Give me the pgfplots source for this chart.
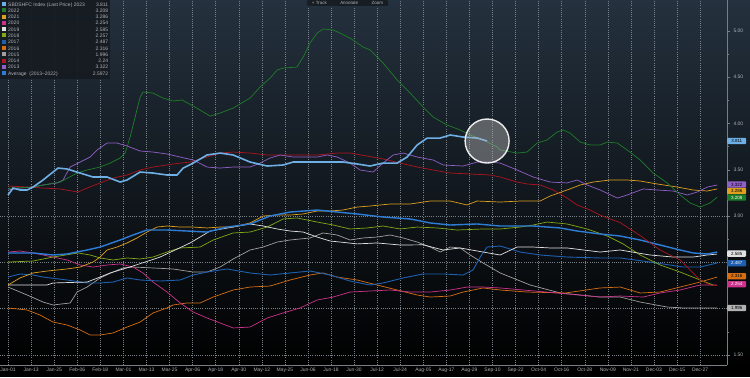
\documentclass[border=0pt]{standalone}
\usepackage{pgfplots}
\pgfplotsset{compat=1.18}
\usepackage{fontspec}
\setmainfont{Liberation Sans}
\definecolor{bgtop}{RGB}{36,49,62}
\definecolor{bgmid}{RGB}{17,23,30}
\definecolor{axisgray}{RGB}{120,126,132}
\definecolor{gridgray}{RGB}{120,128,136}
\definecolor{ticklab}{RGB}{175,178,182}
\definecolor{legbg}{RGB}{22,27,33}
\definecolor{c2023}{RGB}{110,175,230}
\definecolor{c2022}{RGB}{30,125,40}
\definecolor{c2021}{RGB}{222,160,30}
\definecolor{c2020}{RGB}{205,50,140}
\definecolor{c2019}{RGB}{225,225,225}
\definecolor{c2018}{RGB}{130,170,20}
\definecolor{c2017}{RGB}{30,95,175}
\definecolor{c2016}{RGB}{215,110,20}
\definecolor{c2015}{RGB}{160,160,160}
\definecolor{c2014}{RGB}{175,20,30}
\definecolor{c2013}{RGB}{145,95,200}
\definecolor{cavg}{RGB}{45,125,215}
\newcommand{\sw}[1]{\textcolor{#1}{\rule{4bp}{4bp}}}
\begin{document}
\begin{tikzpicture}[x=1bp,y=1bp]
\useasboundingbox (0,-12) rectangle (750,365);
\fill[black] (0,-12) rectangle (750,365);
\shade[top color=bgtop, middle color=bgmid, bottom color=black] (0,0) rectangle (750,365);
\begin{axis}[
 at={(0,0)}, anchor=south west,
 scale only axis, width=727bp, height=365bp,
 xmin=-4.2, xmax=374, ymin=1.392, ymax=5.334,
 clip=false,
 axis x line*=bottom, axis y line*=right,
 axis line style={draw=axisgray, line width=0.6bp},
 xtick={0,12,24,36,48,60,72,84,96,108,120,132,144,156,168,180,192,204,216,228,240,252,264,276,288,300,312,324,336,348,360},
 xticklabels={},
 x tick style={draw=none},
 xmajorgrids,
 x grid style={draw=gridgray, dash pattern=on 1bp off 1.2bp, line width=0.5bp},
 y grid style={draw=gridgray, dash pattern=on 1bp off 1.2bp, line width=0.5bp},
 ytick={1.5,2,2.5,3,3.5,4,4.5,5},
 yticklabels={1.50,{},{},3.00,3.50,4.00,4.50,5.00},
 minor y tick num=1,
 y tick style={draw=axisgray, line width=0.5bp},
 major tick length=3bp, minor tick length=2bp, tick align=outside,
 extra y ticks={1.5,2,2.5,3}, extra y tick labels={},
 extra y tick style={ymajorgrids=true, major tick length=0pt},
 ticklabel style={font=\fontsize{5}{6}\selectfont, text=ticklab},
 /pgf/number format/assume math mode=true,
]
% 2015
\addplot[c2015, line width=0.7bp] coordinates {(0,2.234)(9.9,2.148)(18.2,2.072)(23.4,2.04)(32.3,2.062)(35.9,2.18)(41.1,2.234)(47.9,2.332)(54.6,2.396)(59.8,2.44)(65,2.45)(75.4,2.44)(85.8,2.429)(96.3,2.396)(103.5,2.396)(110.3,2.45)(117.1,2.537)(125.9,2.634)(132.7,2.666)(140,2.72)(146.7,2.742)(157.1,2.764)(163.9,2.818)(171.2,2.796)(177.9,2.742)(184.7,2.764)(192,2.774)(198.8,2.796)(205.5,2.764)(212.8,2.72)(219.6,2.666)(224.8,2.612)(230,2.666)(235.2,2.656)(240.4,2.58)(247.1,2.494)(256,2.386)(271.6,2.256)(287.2,2.17)(308,2.126)(318.4,2.126)(328.8,2.072)(342.9,2.018)(351.2,2.008)(368.9,2.008)};
% 2016
\addplot[c2016, line width=0.7bp] coordinates {(0,2.008)(9.9,1.986)(16.6,1.932)(23.4,1.856)(30.7,1.824)(37.5,1.77)(42.7,1.716)(47.9,1.716)(54.6,1.738)(61.9,1.802)(68.7,1.856)(75.4,1.954)(82.7,2.008)(85.8,2.04)(93.1,2.062)(99.9,2.062)(106.7,2.126)(117.1,2.202)(125.9,2.234)(136.3,2.245)(146.7,2.31)(157.1,2.364)(163.9,2.386)(171.2,2.342)(181.6,2.31)(192,2.256)(202.4,2.202)(212.8,2.148)(219.6,2.126)(230,2.137)(236.7,2.18)(247.1,2.224)(256,2.202)(270,2.18)(290,2.17)(308,2.224)(318.4,2.234)(328.8,2.17)(339.2,2.18)(349.6,2.234)(360,2.288)(368.9,2.342)};
% 2020
\addplot[c2020, line width=0.7bp] coordinates {(0,2.612)(6.2,2.623)(13,2.602)(23.4,2.558)(30.7,2.526)(37.5,2.472)(44.2,2.45)(51.5,2.472)(58.3,2.483)(65,2.45)(70.2,2.386)(75.4,2.288)(82.7,2.18)(89.5,2.062)(96.3,1.964)(103.5,1.9)(110.3,1.846)(117.1,1.792)(125.9,1.802)(134.8,1.9)(143.1,1.954)(151.9,2.008)(160.8,2.094)(169.1,2.126)(177.9,2.18)(188.3,2.191)(198.8,2.202)(209.2,2.18)(219.6,2.18)(230,2.202)(238.8,2.234)(247.1,2.234)(256,2.224)(280,2.18)(308,2.126)(318.4,2.137)(330.4,2.126)(339.2,2.17)(349.6,2.202)(360,2.256)(368.9,2.256)};
% 2017
\addplot[c2017, line width=0.9bp] coordinates {(0,2.342)(6.2,2.375)(13,2.364)(18.2,2.342)(30.7,2.31)(41.1,2.278)(47.9,2.278)(54.6,2.288)(61.9,2.332)(68.7,2.31)(79.1,2.299)(89.5,2.31)(96.3,2.364)(103.5,2.396)(113.9,2.429)(125.9,2.386)(136.3,2.364)(146.7,2.386)(157.1,2.407)(167.5,2.364)(177.9,2.299)(188.3,2.256)(195.1,2.278)(205.5,2.332)(215.9,2.375)(226.3,2.375)(236.7,2.364)(241.9,2.418)(245.6,2.558)(249.2,2.666)(256,2.677)(266.4,2.612)(276.8,2.58)(290.8,2.558)(308,2.548)(318.4,2.548)(334,2.504)(351.2,2.45)(360,2.45)(368.9,2.494)};
% 2018
\addplot[c2018, line width=0.7bp] coordinates {(0,2.504)(13,2.515)(23.4,2.558)(36.4,2.602)(42.7,2.58)(47.9,2.548)(54.6,2.526)(61.9,2.548)(68.7,2.537)(75.4,2.558)(82.7,2.612)(89.5,2.656)(99.9,2.666)(106.7,2.742)(117.1,2.818)(125.9,2.828)(134.8,2.882)(143.1,2.969)(150.3,2.98)(160.8,2.936)(169.1,2.904)(177.9,2.861)(186.8,2.872)(195.1,2.893)(204,2.861)(212.8,2.882)(223.2,2.872)(233.6,2.85)(247.1,2.861)(256,2.861)(266.4,2.882)(273.2,2.904)(280.4,2.936)(290.8,2.915)(301.2,2.861)(311.7,2.785)(320,2.699)(328.8,2.58)(339.2,2.472)(349.6,2.396)(360,2.31)(366.8,2.256)};
% 2019
\addplot[c2019, line width=0.7bp] coordinates {(0,2.256)(20.3,2.256)(23.4,2.278)(41.1,2.288)(47.9,2.342)(53.1,2.386)(65,2.461)(79.1,2.558)(94.7,2.71)(105.1,2.839)(117.1,2.882)(125.9,2.915)(132.7,2.893)(140,2.861)(146.7,2.839)(153.5,2.828)(160.8,2.774)(167.5,2.731)(172.7,2.72)(181.6,2.7)(192,2.71)(204,2.688)(215.9,2.69)(226.3,2.634)(235.2,2.656)(247.1,2.612)(256,2.58)(264.8,2.666)(273.2,2.666)(282,2.656)(290.8,2.656)(308,2.612)(318.4,2.634)(334,2.58)(346,2.558)(356.4,2.558)(363.7,2.58)(368.9,2.59)};
% 2021
\addplot[c2021, line width=0.7bp] coordinates {(0,2.256)(6.2,2.332)(13,2.386)(20.3,2.407)(30.7,2.429)(37.5,2.45)(44.2,2.504)(47.9,2.558)(51.5,2.634)(56.7,2.666)(61.9,2.71)(67.1,2.764)(72.3,2.828)(77.5,2.882)(82.7,2.893)(89.5,2.882)(96.3,2.882)(103.5,2.872)(110.3,2.882)(117.1,2.882)(125.9,2.926)(132.7,3.001)(140,3.012)(146.7,3.012)(153.5,3.023)(160.8,3.055)(167.5,3.055)(174.3,3.066)(181.6,3.098)(188.3,3.109)(198.8,3.131)(209.2,3.131)(219.6,3.163)(230,3.163)(238.8,3.12)(244,3.163)(256,3.152)(266.4,3.163)(276.8,3.163)(282,3.217)(290.8,3.282)(297.6,3.336)(304.4,3.368)(313.2,3.39)(322.1,3.39)(328.8,3.379)(337.7,3.347)(348.1,3.314)(356.4,3.282)(363.7,3.271)(368.9,3.293)};
% Average
\addplot[cavg, line width=1.4bp] coordinates {(0,2.602)(13,2.602)(23.4,2.58)(30.7,2.591)(41.1,2.634)(47.9,2.666)(58.3,2.742)(65,2.796)(72.3,2.85)(82.7,2.85)(93.1,2.839)(103.5,2.828)(113.9,2.882)(125.9,2.915)(136.3,3.001)(146.7,3.044)(160.8,3.066)(171.2,3.044)(181.6,3.023)(195.1,2.99)(209.2,2.969)(219.6,2.926)(230,2.904)(244,2.915)(256,2.893)(273.2,2.893)(287.2,2.872)(296,2.839)(308,2.807)(318.4,2.785)(328.8,2.742)(339.2,2.688)(349.6,2.634)(356.4,2.602)(363.7,2.591)(368.9,2.612)};
% 2014
\addplot[c2014, line width=0.7bp] coordinates {(0,3.325)(9.9,3.314)(18.2,3.303)(27.1,3.293)(36.4,3.26)(41.1,3.303)(47.9,3.358)(54.6,3.411)(61.9,3.444)(68.7,3.498)(75.4,3.53)(85.8,3.563)(94.7,3.584)(103.5,3.638)(110.3,3.681)(117.1,3.692)(125.9,3.681)(134.8,3.66)(143.1,3.66)(151.9,3.66)(160.8,3.66)(171.2,3.681)(177.9,3.681)(186.8,3.649)(195.1,3.617)(204,3.573)(212.8,3.53)(221.1,3.498)(230,3.465)(240.4,3.455)(250.8,3.444)(256,3.422)(264.8,3.368)(270,3.347)(276.8,3.336)(283.6,3.282)(290.8,3.196)(296,3.12)(302.8,3.066)(308,3.01)(318.4,2.93)(328.8,2.79)(339.2,2.634)(349.6,2.526)(354.8,2.418)(360,2.31)(365.2,2.256)(368.9,2.25)};
% 2013
\addplot[c2013, line width=0.7bp] coordinates {(0,3.282)(6.2,3.303)(13,3.314)(18.2,3.336)(25.5,3.358)(28.6,3.39)(32.3,3.53)(37.5,3.584)(42.7,3.638)(46.3,3.714)(51.5,3.789)(56.7,3.789)(61.9,3.757)(68.7,3.703)(75.4,3.692)(82.7,3.671)(89.5,3.638)(96.3,3.606)(103.5,3.53)(110.3,3.519)(117.1,3.53)(125.9,3.53)(131.1,3.573)(136.3,3.627)(141.5,3.66)(148.3,3.638)(160.8,3.638)(166,3.66)(171.2,3.638)(177.9,3.573)(183.1,3.498)(189.9,3.476)(195.1,3.573)(200.3,3.66)(205.5,3.681)(212.8,3.638)(221.1,3.606)(226.3,3.552)(236.7,3.541)(244,3.584)(250.8,3.584)(256,3.573)(264.8,3.498)(273.2,3.422)(282,3.368)(290.8,3.358)(296,3.39)(301.2,3.336)(308,3.282)(316.9,3.195)(322.1,3.228)(330.4,3.293)(337.7,3.282)(346,3.271)(353.3,3.228)(358.5,3.26)(363.7,3.314)(368.9,3.336)};
% 2022
\addplot[c2022, line width=0.7bp] coordinates {(0,3.3)(13,3.314)(18.2,3.336)(27.1,3.368)(35.9,3.465)(41.1,3.498)(47.9,3.53)(53.1,3.573)(58.3,3.627)(60.9,3.681)(63.5,3.854)(66.1,4.07)(68.7,4.286)(70.2,4.34)(75.4,4.329)(80.6,4.275)(85.8,4.243)(90.5,4.254)(96.3,4.189)(105.1,4.081)(110.3,4.113)(117.1,4.167)(125.9,4.275)(131.1,4.394)(136.3,4.491)(140,4.578)(143.1,4.599)(150.3,4.61)(153.5,4.718)(157.1,4.869)(160.8,4.977)(163.9,5.021)(169.1,5.01)(172.7,4.977)(177.9,4.923)(184.7,4.826)(188.3,4.794)(195.1,4.653)(202.4,4.47)(209.2,4.329)(215.9,4.178)(221.1,4.07)(228.4,3.984)(235.2,3.93)(240.4,3.876)(247.1,3.822)(254.4,3.746)(256,3.714)(264.8,3.681)(270,3.692)(275.2,3.789)(280.4,3.822)(285.6,3.908)(288.8,3.93)(292.4,3.897)(297.6,3.8)(302.8,3.768)(308,3.768)(311.7,3.8)(316.9,3.789)(322.1,3.714)(328.8,3.606)(335.6,3.465)(342.9,3.358)(349.6,3.228)(354.8,3.142)(360,3.098)(365.2,3.142)(368.9,3.206)};
% 2023
\addplot[c2023, line width=1.6bp] coordinates {(0,3.228)(2.6,3.303)(6.2,3.282)(9.9,3.282)(13,3.314)(18.2,3.39)(23.4,3.476)(26,3.519)(30.7,3.509)(37.5,3.465)(44.2,3.422)(51.5,3.422)(58.3,3.368)(61.9,3.39)(68.7,3.476)(75.4,3.465)(82.7,3.444)(87.9,3.444)(91.1,3.519)(96.3,3.573)(103.5,3.66)(110.3,3.681)(117.1,3.66)(125.9,3.584)(134.8,3.541)(143.1,3.552)(148.3,3.584)(160.8,3.584)(174.3,3.584)(181.6,3.563)(188.3,3.541)(195.1,3.573)(202.4,3.573)(207.6,3.638)(212.8,3.768)(218,3.843)(224.8,3.843)(230,3.876)(236.7,3.854)(244,3.843)(249.2,3.811)};
% highlight circle
\addplot[only marks, mark=*, mark size=22bp, mark options={fill=gray!60!white, fill opacity=0.45, draw=white!92!gray, line width=1.4bp, draw opacity=0.95}] coordinates {(249.2,3.811)};
% x labels
\tikzset{xlab/.style={anchor=north, inner sep=0pt, yshift=-3bp, font=\fontsize{5}{6}\selectfont, text=ticklab}}
\node[xlab] at (axis cs:0,1.392) {Jan-01};
\node[xlab] at (axis cs:12,1.392) {Jan-13};
\node[xlab] at (axis cs:24,1.392) {Jan-25};
\node[xlab] at (axis cs:36,1.392) {Feb-06};
\node[xlab] at (axis cs:48,1.392) {Feb-18};
\node[xlab] at (axis cs:60,1.392) {Mar-01};
\node[xlab] at (axis cs:72,1.392) {Mar-13};
\node[xlab] at (axis cs:84,1.392) {Mar-25};
\node[xlab] at (axis cs:96,1.392) {Apr-06};
\node[xlab] at (axis cs:108,1.392) {Apr-18};
\node[xlab] at (axis cs:120,1.392) {Apr-30};
\node[xlab] at (axis cs:132,1.392) {May-12};
\node[xlab] at (axis cs:144,1.392) {May-25};
\node[xlab] at (axis cs:156,1.392) {Jun-06};
\node[xlab] at (axis cs:168,1.392) {Jun-18};
\node[xlab] at (axis cs:180,1.392) {Jun-30};
\node[xlab] at (axis cs:192,1.392) {Jul-12};
\node[xlab] at (axis cs:204,1.392) {Jul-24};
\node[xlab] at (axis cs:216,1.392) {Aug-05};
\node[xlab] at (axis cs:228,1.392) {Aug-17};
\node[xlab] at (axis cs:240,1.392) {Aug-29};
\node[xlab] at (axis cs:252,1.392) {Sep-10};
\node[xlab] at (axis cs:264,1.392) {Sep-22};
\node[xlab] at (axis cs:276,1.392) {Oct-04};
\node[xlab] at (axis cs:288,1.392) {Oct-16};
\node[xlab] at (axis cs:300,1.392) {Oct-28};
\node[xlab] at (axis cs:312,1.392) {Nov-09};
\node[xlab] at (axis cs:324,1.392) {Nov-21};
\node[xlab] at (axis cs:336,1.392) {Dec-03};
\node[xlab] at (axis cs:348,1.392) {Dec-15};
\node[xlab] at (axis cs:360,1.392) {Dec-27};
% right tags
\tikzset{tag/.style={anchor=west, rounded corners=1bp, minimum width=19bp, minimum height=6.3bp, inner sep=0.3bp, font=\fontsize{4.5}{5}\selectfont}}
\node[tag, fill=c2023, text=black] at (axis cs:374,3.811) {3.811};
\node[tag, fill=c2013, text=black] at (axis cs:374,3.341) {3.322};
\node[tag, fill=c2021, text=black] at (axis cs:374,3.271) {3.286};
\node[tag, fill=c2022, text=white] at (axis cs:374,3.201) {3.208};
\node[tag, fill=c2019, text=black] at (axis cs:374,2.595) {2.585};
\node[tag, fill=c2017, text=white] at (axis cs:374,2.490) {2.487};
\node[tag, fill=c2016, text=black] at (axis cs:374,2.350) {2.316};
\node[tag, fill=c2020, text=white] at (axis cs:374,2.265) {2.254};
\node[tag, fill=c2015!80!white, text=black] at (axis cs:374,2.008) {1.996};
% legend box
\node[anchor=north west, fill=legbg, fill opacity=0.92, text opacity=1, inner sep=1.5bp, text=ticklab, font=\fontsize{5}{6.3}\selectfont] at (rel axis cs:0,1) {%
\renewcommand{\arraystretch}{1}%
\begin{tabular}{@{}l@{\hspace{2.5bp}}l@{\hspace{8bp}}r@{}}
\sw{c2023} & SBDSHFC Index (Last Price) 2023 & 3.811\\
\sw{c2022} & 2022 & 3.208\\
\sw{c2021} & 2021 & 3.286\\
\sw{c2020} & 2020 & 2.254\\
\sw{c2019} & 2019 & 2.585\\
\sw{c2018} & 2018 & 2.257\\
\sw{c2017} & 2017 & 2.487\\
\sw{c2016} & 2016 & 2.316\\
\sw{c2015} & 2015 & 1.996\\
\sw{c2014} & 2014 & 2.24\\
\sw{c2013} & 2013 & 3.322\\
\sw{cavg} & Average\ \ (2013--2022) & 2.5972\\
\end{tabular}};
% top toolbar
\node[anchor=north, fill=legbg, fill opacity=0.9, text opacity=1, text=ticklab, inner xsep=5bp, inner ysep=1.2bp, rounded corners=1bp, font=\fontsize{4.5}{5}\selectfont] at (rel axis cs:0.478,1) {+\ Track\qquad\quad Annotate\qquad\quad Zoom};
\end{axis}
\end{tikzpicture}
\end{document}
